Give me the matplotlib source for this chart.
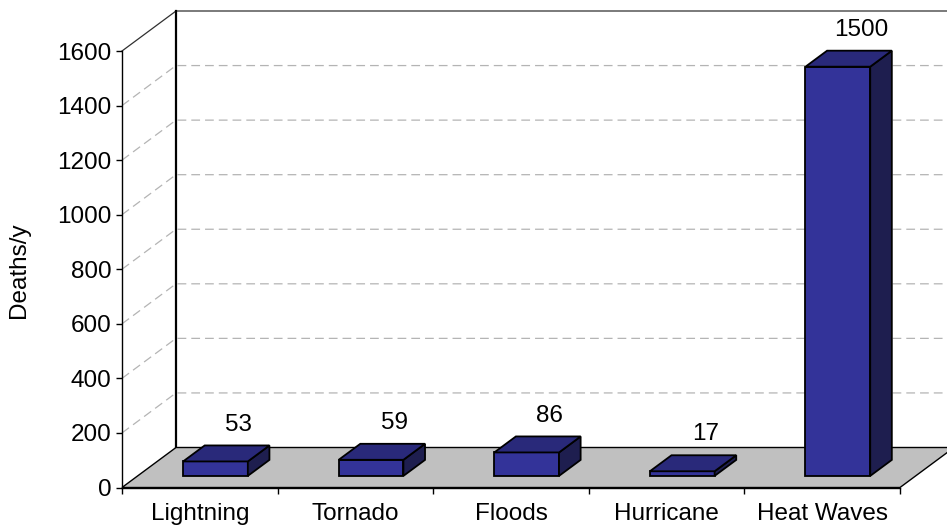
import numpy as np
import matplotlib
matplotlib.use("Agg")
import matplotlib.pyplot as plt
from matplotlib.patches import Polygon

# ── data ─────────────────────────────────────────────────────
categories = ["Lightning", "Tornado", "Floods", "Hurricane", "Heat Waves"]
deaths = [53, 59, 86, 17, 1500]
y_ticks = np.arange(0, 1601, 200)

# ── look ─────────────────────────────────────────────────────
plt.rcParams["font.family"] = ["Liberation Sans", "DejaVu Sans"]
plt.rcParams["font.size"] = 17.5

FRONT_C = "#333399"
TOP_C = "#29297A"
SIDE_C = "#1E1E4F"
FLOOR_C = "#C0C0C0"
GRID_C = "#B4B4B4"

DEPTH_PX = np.array([54, 40])      # oblique depth of the 3D box, pixels
F_FRONT, F_BACK = 0.29, 0.69       # bar front/back depth fractions
BAR_W = 0.416

W, H = 947, 531
fig = plt.figure(figsize=(W / 100, H / 100), dpi=100)
ax = fig.add_axes([122 / W, (H - 487.5) / H, 778 / W, 436.5 / H])
ax.set_xlim(-0.5, len(categories) - 0.5)
ax.set_ylim(0, 1600)
ax.patch.set_visible(False)

# depth offset in data units
o = ax.transData.transform((0, 0))
ddx, ddy = ax.transData.inverted().transform(o + DEPTH_PX)


def pt(x, y, f):
    return (x + f * ddx, y + f * ddy)


def face(pts, color, z, lw=1.3):
    ax.add_patch(Polygon(pts, closed=True, facecolor=color, edgecolor="black",
                         lw=lw, clip_on=False, zorder=z, joinstyle="miter"))


x0, x1 = ax.get_xlim()

# floor
face([pt(x0, 0, 0), pt(x1, 0, 0), pt(x1, 0, 1), pt(x0, 0, 1)], FLOOR_C, 1, lw=1)

# side + back wall gridlines
for yv in y_ticks[1:]:
    solid = yv == y_ticks[-1]
    xs, ys = zip(pt(x0, yv, 0), pt(x0, yv, 1), pt(x1, yv, 1))
    ax.plot(xs, ys, color="#303030" if solid else GRID_C, lw=0.9,
            ls="-" if solid else (0, (7, 4)), clip_on=False, zorder=0.5)

# back wall corner edge
bx, by0 = pt(x0, 0, 1)
ax.plot([bx, bx], [by0, 1600 + ddy], color="black", lw=1.6,
        clip_on=False, zorder=0.6)

# bars
for i, v in enumerate(deaths):
    l, r = i - BAR_W / 2, i + BAR_W / 2
    face([pt(l, 0, F_FRONT), pt(r, 0, F_FRONT), pt(r, v, F_FRONT), pt(l, v, F_FRONT)],
         FRONT_C, 3)
    face([pt(r, 0, F_FRONT), pt(r, 0, F_BACK), pt(r, v, F_BACK), pt(r, v, F_FRONT)],
         SIDE_C, 3)
    face([pt(l, v, F_FRONT), pt(r, v, F_FRONT), pt(r, v, F_BACK), pt(l, v, F_BACK)],
         TOP_C, 3)
    ax.annotate(str(v), xy=pt(i, v, F_BACK), xytext=(1, 15),
                textcoords="offset points", ha="center", va="center",
                annotation_clip=False)

# axes
for s in ["top", "right"]:
    ax.spines[s].set_visible(False)
for s in ["left", "bottom"]:
    ax.spines[s].set_color("black")
    ax.spines[s].set_linewidth(1)

ax.set_yticks(y_ticks)
ax.tick_params(axis="y", length=4.5, width=1, pad=3, color="black")
ax.set_xticks(range(len(categories)))
ax.set_xticklabels(categories)
ax.set_xticks(np.arange(x0, x1 + 0.01, 1), minor=True)
ax.tick_params(axis="x", which="major", length=0, pad=11)
ax.tick_params(axis="x", which="minor", length=4, width=1, color="black")

fig.text(19 / W, 1 - 270 / H, "Deaths/y", rotation=90, ha="center", va="center")

fig.savefig("out.png", dpi=100, facecolor="white")
